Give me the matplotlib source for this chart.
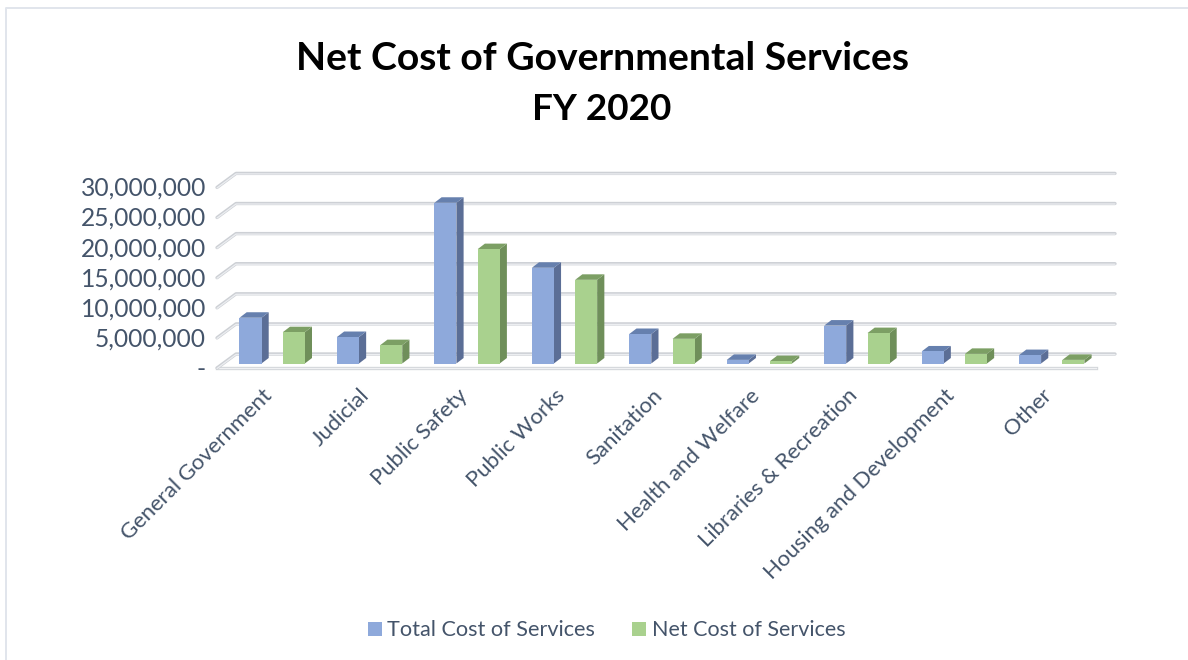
import matplotlib
matplotlib.use('Agg')
import matplotlib.pyplot as plt
from matplotlib.patches import Polygon, Rectangle

categories = ['General Government', 'Judicial', 'Public Safety', 'Public Works', 'Sanitation',
              'Health and Welfare', 'Libraries & Recreation', 'Housing and Development', 'Other']
total_cost = [7600000, 4400000, 26700000, 15900000, 4900000, 600000, 6300000, 2000000, 1400000]
net_cost = [5200000, 3050000, 19000000, 13900000, 4100000, 400000, 5050000, 1600000, 600000]
yticks = [0, 5000000, 10000000, 15000000, 20000000, 25000000, 30000000]
series_names = ['Total Cost of Services', 'Net Cost of Services']

W, H = 1188, 660
TEXT = '#44546A'
plt.rcParams['font.family'] = ['Lato', 'DejaVu Sans']

fig = plt.figure(figsize=(W / 100, H / 100), dpi=100)

# axes lined up with the floor of the bars: value 0 sits at y=363.5
left, right, base, top = 217, 1096, 363.5, 183
ax = fig.add_axes([left / W, 1 - base / H, (right - left) / W, (base - top) / H])
px_x = 97.45
px_y = 30.1 / 5000000
x0 = 272.15
ax.set_xlim((left - x0) / px_x, (right - x0) / px_x)
ax.set_ylim(0, (base - top) / px_y)
ax.axis('off')

def to_x(px):
    return px / px_x

def to_y(px):
    return px / px_y

def grid_line(v, color, lw, shift=0.0):
    xs = [to_x(left - x0), to_x(236 - x0), to_x(1115 - x0)]
    ys = [v - to_y(4.5 + shift), v + to_y(9.5 - shift), v + to_y(9.5 - shift)]
    ax.plot(xs, ys, color=color, lw=lw, clip_on=False, zorder=1, solid_capstyle='round')

for v in yticks[1:]:
    grid_line(v, '#cdd0d5', 2.4)
    grid_line(v, '#eceef1', 0.9, 0.5)

# floor: front edge, back edge and left side
ax.plot([to_x(left - x0), to_x(right - x0)], [-to_y(4.5)] * 2, color='#d3d6da', lw=2.4, clip_on=False, zorder=1)
ax.plot([to_x(left - x0), to_x(right - x0)], [-to_y(4.7)] * 2, color='#f0f1f3', lw=0.9, clip_on=False, zorder=1)
grid_line(0, '#cdd0d5', 2.4)
grid_line(0, '#eceef1', 0.9, 0.5)

bar_w = to_x(22)
dx = to_x(7.2)
dy = to_y(5.5)

def bar3d(x, v, front, side, roof):
    ax.add_patch(Rectangle((x, 0), bar_w, v, fc=front, ec='none', zorder=3, clip_on=False))
    ax.add_patch(Polygon([(x + bar_w, 0), (x + bar_w + dx, dy), (x + bar_w + dx, v + dy), (x + bar_w, v)],
                         fc=side, ec='none', zorder=2, clip_on=False))
    ax.add_patch(Polygon([(x, v), (x + dx, v + dy), (x + bar_w + dx, v + dy), (x + bar_w, v)],
                         fc=roof, ec='none', zorder=2, clip_on=False))

for i in range(len(categories)):
    bar3d(i - to_x(32.65), total_cost[i], '#8EA9DB', '#5B6E96', '#6680AE')
    bar3d(i + to_x(10.65), net_cost[i], '#A9D18E', '#6F8F5A', '#7C9F64')

# value labels follow the front edge of the wall
for v in yticks:
    label = '-' if v == 0 else format(v, ',d')
    ax.text(to_x(206 - x0), v - to_y(5.5), label, ha='right', va='center', fontsize=17.7, color=TEXT, clip_on=False)

for i, name in enumerate(categories):
    ax.annotate(name, (i, 0), xytext=(-3, -29), textcoords='offset pixels', rotation=45,
                rotation_mode='anchor', ha='right', va='center', fontsize=15.9, color=TEXT, annotation_clip=False)

fig.text(602 / W, 1 - 58 / H, 'Net Cost of Governmental Services', ha='center', va='center',
         fontsize=28.2, fontweight='bold', color='black')
fig.text(602 / W, 1 - 109 / H, 'FY 2020', ha='center', va='center', fontsize=26.6, fontweight='bold', color='black')

# legend
fig.patches.append(Rectangle((368 / W, 1 - 636 / H), 14 / W, 14 / H, transform=fig.transFigure, fc='#8EA9DB', ec='none'))
fig.text(387 / W, 1 - 630 / H, series_names[0], ha='left', va='center', fontsize=15.6, color=TEXT)
fig.patches.append(Rectangle((632 / W, 1 - 636 / H), 14 / W, 14 / H, transform=fig.transFigure, fc='#A9D18E', ec='none'))
fig.text(652 / W, 1 - 630 / H, series_names[1], ha='left', va='center', fontsize=15.5, color=TEXT)

# chart border, top and left sides only
fig.add_artist(plt.Line2D([6 / W, 6 / W, 1188 / W], [0, 1 - 8 / H, 1 - 8 / H], color='#e1e5ec', lw=1.4))

fig.savefig('out.png', dpi=100)
